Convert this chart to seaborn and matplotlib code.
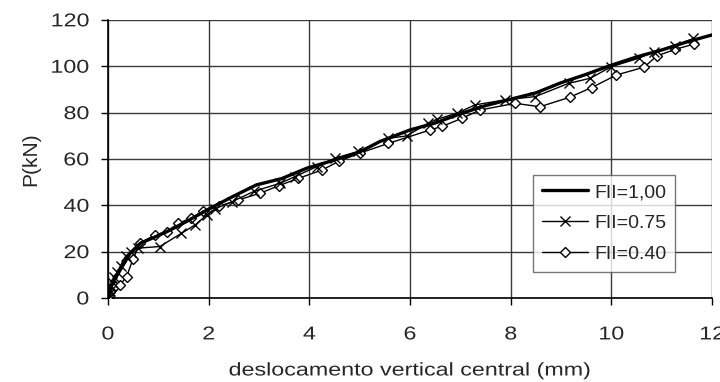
import matplotlib
matplotlib.use("Agg")
import matplotlib.pyplot as plt
from matplotlib.patheffects import AbstractPathEffect
from matplotlib.transforms import Affine2D
import seaborn as sns
import pandas as pd

# Load-displacement curves for three FII values
x_100 = [0, 0.02, 0.05, 0.1, 0.2, 0.3, 0.44, 0.64, 0.9, 1.17, 1.56, 2.03, 2.5, 2.95,
         3.45, 3.95, 4.5, 5.0, 5.4, 6.0, 6.5, 7.0, 7.5, 7.95, 8.5, 8.98, 9.5, 9.94,
         10.5, 11.0, 11.5, 12.0]
y_100 = [0, 2, 4, 7, 10.5, 14.2, 19.3, 23.6, 26, 28.6, 33, 38.7, 44, 48.8,
         51.5, 56, 59.5, 63, 67.5, 72.5, 75.5, 79.5, 83, 85.5, 88.5, 92.7, 96.5, 100,
         104, 107, 110.5, 113.5]

x_075 = [0, 0.01, 0.03, 0.05, 0.08, 0.12, 0.18, 0.25, 0.35, 0.45, 0.6, 1.03, 1.46,
         1.73, 1.96, 2.13, 2.46, 2.9, 3.42, 3.72, 4.15, 4.51, 4.97, 5.57, 5.93, 6.36,
         6.53, 6.93, 7.29, 7.89, 8.49, 9.15, 9.58, 10.0, 10.54, 10.84, 11.27, 11.63]
y_075 = [0, 1.5, 3, 5, 7, 9, 11, 14, 18, 20, 21.5, 22.2, 27.9,
         31.5, 35.8, 38.5, 41.5, 46, 49.5, 52.4, 56.7, 60.3, 63.2, 68.9, 69.9, 75.4,
         77.1, 79.7, 83.3, 85.5, 86.9, 92.6, 94.8, 99.8, 103.4, 106.3, 108.8, 112]

x_040 = [0, 0.02, 0.04, 0.08, 0.14, 0.24, 0.37, 0.5, 0.64, 0.93, 1.17, 1.40, 1.65,
         1.89, 2.2, 2.59, 3.02, 3.4, 3.78, 4.25, 4.58, 5.0, 5.57, 6.40, 6.63, 7.03,
         7.39, 8.09, 8.58, 9.17, 9.61, 10.1, 10.65, 10.9, 11.27, 11.65]
y_040 = [0, 1, 2.7, 4, 5, 5.6, 9.2, 17, 23.6, 27.2, 28.6, 32.2, 34.5,
         37.4, 39.5, 42.3, 45.2, 48.5, 51.6, 55.2, 58.9, 62.5, 66.7, 72.5, 74, 77.5,
         81.1, 84, 82.5, 86.6, 90.8, 96.2, 99.6, 104.4, 107.3, 109.6]

labels = ["FII=1,00", "FII=0.75", "FII=0.40"]
x_ticks = [0, 2, 4, 6, 8, 10, 12]
y_ticks = [0, 20, 40, 60, 80, 100, 120]


class HStretch(AbstractPathEffect):
    """Widen text glyphs horizontally about a chosen anchor."""

    def __init__(self, factor, anchor="center"):
        super().__init__()
        self.factor = factor
        self.anchor = anchor

    def draw_path(self, renderer, gc, tpath, affine, rgbFace=None):
        ext = tpath.get_extents()
        if self.anchor == "left":
            cx = ext.x0
        elif self.anchor == "right":
            cx = ext.x1
        else:
            cx = 0.5 * (ext.x0 + ext.x1)
        t = Affine2D().translate(-cx, 0).scale(self.factor, 1).translate(cx, 0)
        renderer.draw_path(gc, tpath, t + affine, rgbFace)


sns.set_style("white")
plt.rcParams["font.family"] = ["Liberation Sans", "DejaVu Sans"]

fig = plt.figure(figsize=(7.2, 3.82), dpi=100)
ax = fig.add_axes([0.15, 0.22, 0.839, 0.728])

df100 = pd.DataFrame({"x": x_100, "y": y_100})
df075 = pd.DataFrame({"x": x_075, "y": y_075})
df040 = pd.DataFrame({"x": x_040, "y": y_040})

sns.lineplot(data=df040, x="x", y="y", sort=False, ax=ax, color="black", lw=1.0,
             marker="D", markersize=4.6, markerfacecolor="white",
             markeredgecolor="black", markeredgewidth=1.0, label=labels[2], zorder=3)
sns.lineplot(data=df075, x="x", y="y", sort=False, ax=ax, color="black", lw=1.0,
             marker="x", markersize=7, markeredgecolor="black",
             markeredgewidth=1.0, label=labels[1], zorder=4)
sns.lineplot(data=df100, x="x", y="y", sort=False, ax=ax, color="black", lw=2.4,
             label=labels[0], zorder=5)

ax.set_xlim(0, 12)
ax.set_ylim(0, 120)
ax.set_xticks(x_ticks)
ax.set_yticks(y_ticks)
ax.tick_params(axis="both", labelsize=13.4, direction="out", length=5, width=1,
               color="black", left=True, bottom=True)
ax.tick_params(axis="x", pad=15.5)
ax.tick_params(axis="y", pad=8.5)
ax.grid(True, color="#3a3a3a", lw=1.0)
ax.set_axisbelow(True)
for side in ["top", "right"]:
    ax.spines[side].set_visible(False)
for side in ["left", "bottom"]:
    ax.spines[side].set_color("black")
    ax.spines[side].set_linewidth(1.2)

for tk in ax.xaxis.get_major_ticks():
    tk.label1.set_path_effects([HStretch(1.25, "center")])
for tk in ax.yaxis.get_major_ticks():
    tk.label1.set_path_effects([HStretch(1.25, "right")])

ax.set_xlabel("deslocamento vertical central (mm)", fontsize=13.2)
ax.xaxis.label.set_path_effects([HStretch(1.27, "center")])
ax.xaxis.set_label_coords(0.5, -0.232)
ax.set_ylabel("P(kN)", fontsize=15)
ax.yaxis.set_label_coords(-0.112, 0.5)

handles, labs = ax.get_legend_handles_labels()
order = [labs.index(l) for l in labels]
leg = ax.legend([handles[i] for i in order], [labs[i] for i in order],
                loc="upper left", bbox_to_anchor=(0.7036, 0.4424), fontsize=14,
                frameon=True, fancybox=False, edgecolor="#555555",
                handlelength=2.4, handletextpad=0.3, borderpad=0.45,
                labelspacing=0.68, borderaxespad=0)
leg.get_frame().set_linewidth(1.0)
leg.set_zorder(10)

fig.savefig("out.png", dpi=100, facecolor="white")
